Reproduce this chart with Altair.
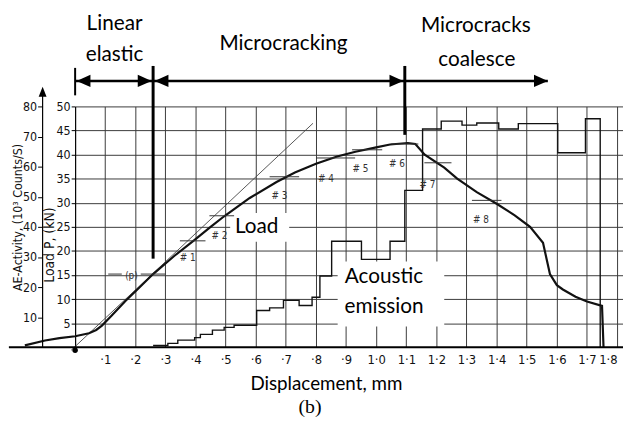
import altair as alt
import pandas as pd

# ---------------- data ----------------
# Load curve: displacement (mm) vs load P (kN)
load_disp = [-0.167, -0.10, -0.052, 0.0, 0.046, 0.07, 0.089, 0.12, 0.167, 0.21, 0.259, 0.33,
             0.397, 0.45, 0.495, 0.58, 0.669, 0.73, 0.80, 0.87, 0.931, 1.0, 1.046, 1.105,
             1.13, 1.161, 1.226, 1.269, 1.334, 1.40, 1.46, 1.511, 1.554, 1.577, 1.60, 1.62,
             1.662, 1.70, 1.75, 1.755]
load_kn = [0.4, 1.4, 1.9, 2.3, 2.9, 3.6, 4.5, 6.5, 9.6, 12.2, 15.2, 19.0,
           22.3, 25.0, 27.2, 31.0, 34.3, 36.3, 38.1, 39.6, 40.6, 41.5, 42.1, 42.4,
           42.2, 40.0, 37.3, 35.0, 32.2, 29.8, 27.4, 25.0, 21.7, 15.2, 12.9, 12.0,
           10.5, 9.5, 8.6, 0.0]

# Acoustic emission (step curve): displacement (mm) vs AE activity (10^3 counts/s)
ae_disp = [0.259, 0.308, 0.341, 0.397, 0.416, 0.456, 0.495, 0.528, 0.603, 0.646, 0.692,
           0.744, 0.787, 0.813, 0.852, 0.951, 1.046, 1.095, 1.154, 1.216, 1.285, 1.334,
           1.407, 1.472, 1.603, 1.695, 1.744]
ae_val = [0.6, 1.3, 2.4, 3.2, 4.3, 5.7, 6.6, 7.3, 12.2, 13.1, 15.6,
          13.9, 16.6, 23.7, 35.2, 29.2, 35.2, 52.1, 72.5, 75.1, 73.8, 74.5,
          72.5, 74.3, 64.6, 75.9, 0.0]

# thin elastic tangent line
tan_disp = [-0.013, 0.79]
tan_kn = [-0.6, 46.5]

# axis ticks
x_ticks = [0.1, 0.2, 0.3, 0.4, 0.5, 0.6, 0.7, 0.8, 0.9, 1.0, 1.1, 1.2, 1.3, 1.4, 1.5, 1.6, 1.7, 1.8]
x_labels = ["·1", "·2", "·3", "·4", "·5", "·6", "·7", "·8", "·9", "1·0", "1·1", "1·2",
            "1·3", "1·4", "1·5", "1·6", "1·7", "1·8"]
load_ticks = [5, 10, 15, 20, 25, 30, 35, 40, 45, 50]
ae_ticks = [10, 20, 30, 40, 50, 60, 70, 80]

# marker labels on the load curve
mark_text = ["(p)", "# 1", "# 2", "# 3", "# 4", "# 5", "# 6", "# 7", "# 8"]
mark_x = [0.187, 0.374, 0.479, 0.679, 0.833, 0.948, 1.069, 1.17, 1.348]
mark_y = [14.8, 18.6, 23.0, 31.4, 35.0, 37.1, 38.1, 33.6, 26.4]
# short horizontal marker strokes
seg_x1 = [0.11, 0.218, 0.348, 0.446, 0.646, 0.80, 0.92, 1.05, 1.16, 1.318]
seg_x2 = [0.155, 0.30, 0.433, 0.528, 0.744, 0.93, 1.02, 1.14, 1.25, 1.416]
seg_y = [15.2, 15.2, 22.1, 27.3, 35.4, 39.3, 41.0, 42.2, 38.3, 30.5]

# phase annotations
phase_text = ["Linear", "elastic", "Microcracking", "Microcracks", "coalesce"]
phase_x = [0.131, 0.131, 0.692, 1.331, 1.334]
phase_y = [67.0, 60.7, 62.9, 66.6, 59.6]
arrow_x1 = [0.0, 0.259, 1.095]
arrow_x2 = [0.259, 1.095, 1.57]
arrow_y = 55.3
head_left_x = [0.005, 0.264]
head_right_x = [0.254, 1.09, 1.57]
vline_x = [0.0, 0.259, 1.095]
vline_top = [58.0, 58.4, 58.4]
vline_bot = [52.3, 18.4, 44.1]
vline_w = [2.0, 3.0, 3.0]

# curve labels
curve_text = ["Load", "Acoustic", "emission"]
curve_x = [0.603, 1.026, 1.026]
curve_y = [25.0, 14.5, 8.4]
box_x1 = [0.515, 0.872]
box_x2 = [0.711, 1.226]
box_y1 = [21.9, 4.3]
box_y2 = [27.9, 17.8]

# ---------------- scales ----------------
xs = alt.Scale(domain=[0, 1.8197], nice=False, zero=False)
ys = alt.Scale(domain=[0, 50], nice=False, zero=False)
ae_s = alt.Scale(domain=[0, 80], nice=False, zero=False)

cond = "DejaVu Sans Condensed, Liberation Sans Narrow, Roboto Condensed, Arial Narrow, sans-serif"
label_expr = "[" + ",".join("'" + s + "'" for s in x_labels) + "][round(datum.value*10)-1]"

x_axis = alt.Axis(values=x_ticks, labelExpr=label_expr, grid=True, gridColor="#3a3a3a",
                  gridWidth=1, ticks=False, domain=False, labelFont=cond, labelFontSize=13,
                  labelColor="#111", labelPadding=6, labelFlush=8, title="Displacement, mm",
                  titleFont="Lato", titleFontSize=19, titleFontWeight="normal",
                  titleColor="#000", titleX=254, titleY=37, titleBaseline="middle",
                  titleAlign="center")
y_axis = alt.Axis(orient="left", values=load_ticks, grid=True, gridColor="#3a3a3a", gridWidth=1,
                  domain=True, domainColor="#000", domainWidth=1.2, tickColor="#000",
                  tickSize=4, labelPadding=1, labelFont=cond, labelFontSize=12.5,
                  labelColor="#111", title="Load  P, (kN)", titleFont=cond,
                  titleFontSize=14, titleFontWeight="normal", titleColor="#111",
                  titleX=-26, titleY=140, titleAngle=270, titleAlign="center",
                  titleBaseline="middle")
ae_axis = alt.Axis(orient="left", offset=33, values=ae_ticks, grid=False, domain=False,
                   tickColor="#000", tickSize=5, labelPadding=1, labelFont=cond,
                   labelFontSize=12.5, labelColor="#111",
                   title="AE-Activity, (10³ Counts/S)", titleFont=cond, titleFontSize=12.5,
                   titleFontWeight="normal", titleColor="#111", titleX=-25, titleY=112,
                   titleAngle=270, titleAlign="center", titleBaseline="middle")

load_df = pd.DataFrame({"d": load_disp, "p": load_kn, "o": range(len(load_disp))})
ae_df = pd.DataFrame({"d": ae_disp, "a": ae_val})
tan_df = pd.DataFrame({"d": tan_disp, "p": tan_kn})
mark_df = pd.DataFrame({"t": mark_text, "d": mark_x, "p": mark_y})
seg_df = pd.DataFrame({"x1": seg_x1, "x2": seg_x2, "p": seg_y})
phase_df = pd.DataFrame({"t": phase_text, "d": phase_x, "p": phase_y})
arrow_df = pd.DataFrame({"x1": arrow_x1, "x2": arrow_x2, "p": [arrow_y] * 3})
hl_df = pd.DataFrame({"d": head_left_x, "p": [arrow_y] * 2})
hr_df = pd.DataFrame({"d": head_right_x, "p": [arrow_y] * 3})
vl_df = pd.DataFrame({"d": vline_x, "p1": vline_top, "p2": vline_bot, "w": vline_w})
curve_df = pd.DataFrame({"t": curve_text, "d": curve_x, "p": curve_y})
box_df = pd.DataFrame({"x1": box_x1, "x2": box_x2, "y1": box_y1, "y2": box_y2})


def X(f):
    # every layer carries the same x axis definition so the shared axis merges cleanly
    return alt.X(f, type="quantitative", scale=xs, axis=x_axis)


def Y(f):
    return alt.Y(f, type="quantitative", scale=ys, axis=None)


def YA(f):
    return alt.Y(f, type="quantitative", scale=ae_s, axis=None)


grid_base = alt.Chart(load_df).mark_line(opacity=0, clip=False).encode(
    x=X("d"),
    y=alt.Y("p:Q", scale=ys, axis=y_axis),
)
boxes = alt.Chart(box_df).mark_rect(color="white", clip=False).encode(
    x=X("x1"), x2="x2", y=Y("y1"), y2="y2")
tangent = alt.Chart(tan_df).mark_line(color="#444", strokeWidth=0.9, clip=False).encode(
    x=X("d"), y=Y("p"))
load_line = alt.Chart(load_df).mark_line(color="#111", strokeWidth=2.2, clip=False,
                                         interpolate="linear").encode(
    x=X("d"), y=Y("p"), order="o:Q")
segs = alt.Chart(seg_df).mark_rule(color="#333", strokeWidth=1, clip=False).encode(
    x=X("x1"), x2="x2", y=Y("p"))
marks = alt.Chart(mark_df).mark_text(font=cond, fontSize=10, color="#333", clip=False).encode(
    x=X("d"), y=Y("p"), text="t:N")
baseline = alt.Chart(pd.DataFrame({"x1": [-0.22], "x2": [1.8197], "p": [0]})).mark_rule(
    color="#000", strokeWidth=2, clip=False).encode(x=X("x1"), x2="x2", y=Y("p"))
origin = alt.Chart(pd.DataFrame({"d": [0], "p": [-0.6]})).mark_point(
    filled=True, color="#000", size=30, opacity=1, clip=False).encode(x=X("d"), y=Y("p"))
phases = alt.Chart(phase_df).mark_text(font="Lato", fontSize=21, color="#000", clip=False).encode(
    x=X("d"), y=Y("p"), text="t:N")
arrows = alt.Chart(arrow_df).mark_rule(color="#000", strokeWidth=2.5, clip=False).encode(
    x=X("x1"), x2="x2", y=Y("p"))
heads_l = alt.Chart(hl_df).mark_point(shape="M0,0L2,-0.9L2,0.9Z", size=196, filled=True,
                                      color="#000", opacity=1, strokeWidth=0, clip=False).encode(
    x=X("d"), y=Y("p"))
heads_r = alt.Chart(hr_df).mark_point(shape="M0,0L-2,-0.9L-2,0.9Z", size=196, filled=True,
                                      color="#000", opacity=1, strokeWidth=0, clip=False).encode(
    x=X("d"), y=Y("p"))
vlines = alt.Chart(vl_df).mark_rule(color="#000", clip=False).encode(
    x=X("d"), y=Y("p1"), y2="p2", strokeWidth=alt.StrokeWidth("w:Q", scale=None))
curve_lbl = alt.Chart(curve_df).mark_text(font="Lato", fontSize=21, color="#000", clip=False).encode(
    x=X("d"), y=Y("p"), text="t:N")
fig_lbl = alt.Chart(pd.DataFrame({"t": ["(b)"], "d": [0.78], "p": [-12.5]})).mark_text(
    font="Liberation Serif", fontSize=20, color="#000", clip=False).encode(
    x=X("d"), y=Y("p"), text="t:N")

ae_line = alt.Chart(ae_df).mark_line(color="#111", strokeWidth=1.4, interpolate="step-after",
                                     clip=False).encode(
    x=X("d"), y=alt.Y("a:Q", scale=ae_s, axis=ae_axis))
ae_axis_line = alt.Chart(pd.DataFrame({"d": [-0.108], "a1": [0], "a2": [84]})).mark_rule(
    color="#000", strokeWidth=1.2, clip=False).encode(
    x=X("d"), y=YA("a1"), y2="a2")
ae_arrow = alt.Chart(pd.DataFrame({"d": [-0.108], "a": [86.5]})).mark_point(
    shape="M0,0L-0.8,2L0.8,2Z", size=100, filled=True, color="#000", opacity=1,
    strokeWidth=0, clip=False).encode(x=X("d"), y=YA("a"))

chart = alt.layer(grid_base, boxes, tangent, load_line, ae_line, segs, marks, baseline, origin,
                  phases, arrows, heads_l, heads_r, vlines, curve_lbl, fig_lbl,
                  ae_axis_line, ae_arrow).resolve_scale(y="independent").properties(
    width=555, height=244,
    autosize=alt.AutoSizeParams(type="none"),
    padding={"left": 68, "top": 97, "right": 0, "bottom": 75},
    background="white",
).configure_view(stroke=None)

chart.save("out.html", embed_options={"renderer": "svg", "actions": False})
